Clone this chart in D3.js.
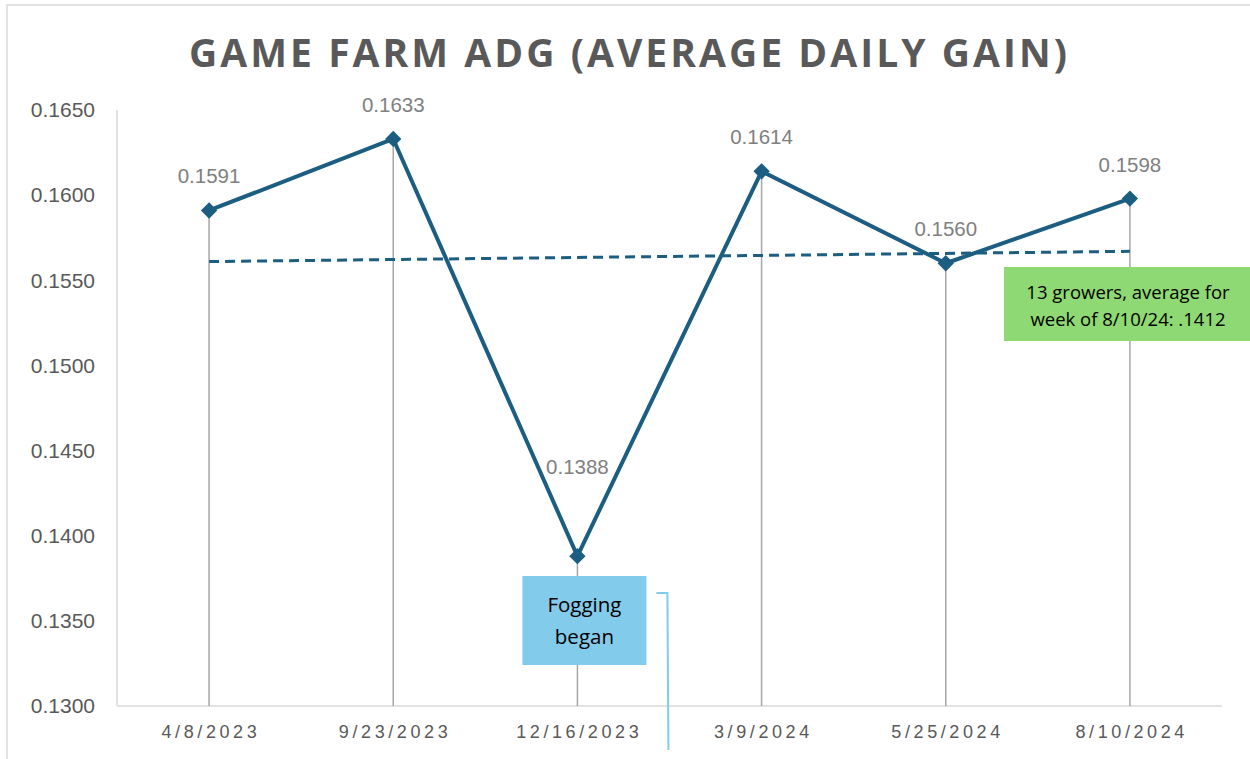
<!DOCTYPE html>
<html>
<head>
<meta charset="utf-8">
<script src="https://cdn.jsdelivr.net/npm/d3@7/dist/d3.min.js"></script>
<style>
  html, body { margin: 0; padding: 0; background: #fff; }
  svg { display: block; }
</style>
</head>
<body>
<svg id="chart" width="1250" height="759"></svg>
<script>
const categories = ["4/8/2023", "9/23/2023", "12/16/2023", "3/9/2024", "5/25/2024", "8/10/2024"];
const values = [0.1591, 0.1633, 0.1388, 0.1614, 0.1560, 0.1598];
const yTicks = [0.1300, 0.1350, 0.1400, 0.1450, 0.1500, 0.1550, 0.1600, 0.1650];
const titleText = "GAME FARM ADG (AVERAGE DAILY GAIN)";
const foggingText = ["Fogging", "began"];
const growersText = ["13 growers, average for", "week of 8/10/24: .1412"];

(function () {
const svg = d3.select("#chart");
const W = 1250, H = 759;
const mLeft = 117, mRight = 1222, mTop = 110, mBottom = 706;
const lineColor = "#1b5e82";

// chart border
svg.append("rect").attr("x", 7).attr("y", 5).attr("width", W + 20).attr("height", H + 20)
  .attr("fill", "#fff").attr("stroke", "#d9d9d9").attr("stroke-width", 1.5);

const x = d3.scaleBand().domain(categories).range([mLeft, mRight]).padding(0);
const y = d3.scaleLinear().domain([0.1300, 0.1650]).range([mBottom, mTop]);
const cx = d => x(d) + x.bandwidth() / 2;

// title
svg.append("text").attr("x", 628).attr("y", 67).attr("text-anchor", "middle")
  .attr("font-family", "'Open Sans', sans-serif").attr("font-weight", 700)
  .attr("font-size", 39).attr("fill", "#595959")
  .attr("textLength", 878).attr("lengthAdjust", "spacing")
  .text(titleText);

// axes lines
svg.append("line").attr("x1", mLeft).attr("x2", mLeft).attr("y1", mTop).attr("y2", mBottom)
  .attr("stroke", "#d9d9d9").attr("stroke-width", 1.5);
svg.append("line").attr("x1", mLeft).attr("x2", mRight).attr("y1", mBottom).attr("y2", mBottom)
  .attr("stroke", "#d9d9d9").attr("stroke-width", 1.5);

// y axis labels
const yAxis = d3.axisLeft(y).tickValues(yTicks).tickFormat(d3.format(".4f")).tickSize(0).tickPadding(22);
const yg = svg.append("g").attr("transform", `translate(${mLeft},0)`).call(yAxis);
yg.select(".domain").remove();
yg.selectAll("text").attr("font-family", "'Liberation Sans', Arial, sans-serif")
  .attr("font-size", 21).attr("fill", "#595959");

// x axis labels
const xAxis = d3.axisBottom(x).tickSize(0).tickPadding(19);
const xg = svg.append("g").attr("transform", `translate(0,${mBottom})`).call(xAxis);
xg.select(".domain").remove();
xg.selectAll("text").attr("font-family", "'Liberation Sans', Arial, sans-serif")
  .attr("font-size", 18).attr("fill", "#595959").attr("letter-spacing", "3.6px")
  .attr("dx", "1.8px");

// drop lines
svg.append("g").selectAll("line").data(categories).join("line")
  .attr("x1", d => cx(d)).attr("x2", d => cx(d))
  .attr("y1", (d, i) => y(values[i])).attr("y2", mBottom)
  .attr("stroke", "#a6a6a6").attr("stroke-width", 1.5);

// trendline (linear regression of the series)
const n = values.length;
const xs = values.map((_, i) => i + 1);
const mx = d3.mean(xs), my = d3.mean(values);
const slope = d3.sum(xs.map((xi, i) => (xi - mx) * (values[i] - my))) / d3.sum(xs.map(xi => (xi - mx) ** 2));
const intercept = my - slope * mx;
svg.append("line")
  .attr("x1", cx(categories[0])).attr("x2", cx(categories[n - 1]))
  .attr("y1", y(intercept + slope * 1)).attr("y2", y(intercept + slope * n))
  .attr("stroke", lineColor).attr("stroke-width", 3).attr("stroke-dasharray", "10,6");

// main line
const line = d3.line().x((d, i) => cx(categories[i])).y(d => y(d));
svg.append("path").datum(values).attr("d", line)
  .attr("fill", "none").attr("stroke", lineColor).attr("stroke-width", 4).attr("stroke-linejoin", "round");

// markers
svg.append("g").selectAll("path").data(values).join("path")
  .attr("d", d3.symbol().type(d3.symbolDiamond2).size(170))
  .attr("transform", (d, i) => `translate(${cx(categories[i])},${y(d)})`)
  .attr("fill", lineColor);

// data labels (the minimum's label sits higher, clear of the V)
const minV = d3.min(values);
svg.append("g").selectAll("text").data(values).join("text")
  .attr("x", (d, i) => cx(categories[i])).attr("y", d => y(d) - (d === minV ? 82 : 27))
  .attr("text-anchor", "middle")
  .attr("font-family", "'Liberation Sans', Arial, sans-serif")
  .attr("font-size", 20.5).attr("fill", "#808080")
  .text(d => d3.format(".4f")(d));

// Fogging annotation
const fx = cx(categories[2]);
svg.append("rect").attr("x", fx - 55).attr("y", 576).attr("width", 124).attr("height", 89)
  .attr("fill", "#83cbeb");
svg.append("g").selectAll("text").data(foggingText).join("text")
  .attr("x", fx + 7).attr("y", (d, i) => 612 + i * 32)
  .attr("text-anchor", "middle").attr("font-family", "'Open Sans', sans-serif")
  .attr("font-size", 20.5).attr("fill", "#000").text(d => d);
svg.append("polyline")
  .attr("points", `${fx + 79},593 ${fx + 90},593 ${fx + 91},750`)
  .attr("fill", "none").attr("stroke", "#83cbeb").attr("stroke-width", 2);

// growers annotation
svg.append("rect").attr("x", 1004).attr("y", 267).attr("width", 246).attr("height", 74)
  .attr("fill", "#8ed973");
svg.append("g").selectAll("text").data(growersText).join("text")
  .attr("x", 1128).attr("y", (d, i) => 299 + i * 27)
  .attr("text-anchor", "middle").attr("font-family", "'Open Sans', sans-serif")
  .attr("font-size", 18.5).attr("fill", "#000").text(d => d);
})();
</script>
</body>
</html>
